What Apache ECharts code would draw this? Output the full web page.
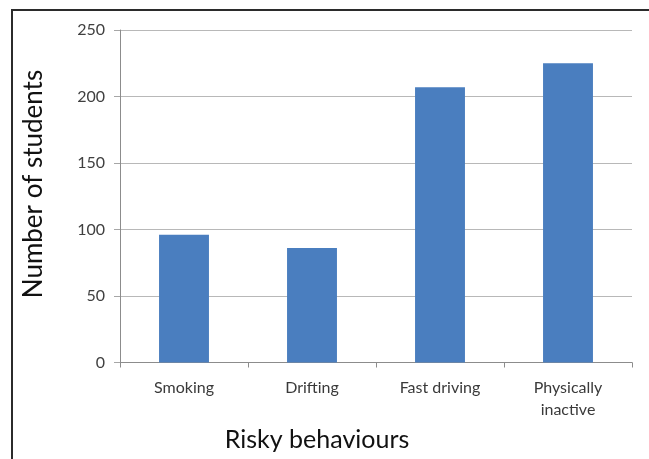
<!DOCTYPE html>
<html>
<head>
<meta charset="utf-8">
<script src="https://cdn.jsdelivr.net/npm/echarts@6/dist/echarts.min.js"></script>
<style>
  html, body { margin: 0; padding: 0; background: #fff; }
  #chart { width: 649px; height: 459px; }
</style>
</head>
<body>
<div id="chart"></div>
<script>
// Risky behaviours reported by students
const categories = ['Smoking', 'Drifting', 'Fast driving', 'Physically\ninactive'];
const students = [96, 86, 207, 225];
const yTicks = [0, 50, 100, 150, 200, 250];

const chart = echarts.init(document.getElementById('chart'), null, { renderer: 'canvas' });

chart.setOption({
  animation: false,
  backgroundColor: '#ffffff',
  grid: { left: 120, top: 30, width: 512, height: 332.5, containLabel: false },
  xAxis: {
    type: 'category',
    data: categories,
    axisLine: { lineStyle: { color: '#8c8c8c', width: 1 } },
    axisTick: { show: true, alignWithLabel: false, length: 5, lineStyle: { color: '#8c8c8c' } },
    axisLabel: {
      color: '#3a3a3a', fontFamily: 'Lato', fontSize: 16, margin: 14, lineHeight: 22
    }
  },
  yAxis: {
    type: 'value',
    min: yTicks[0],
    max: yTicks[yTicks.length - 1],
    interval: 50,
    axisLine: { show: true, lineStyle: { color: '#8c8c8c', width: 1 } },
    axisTick: { show: true, length: 6, lineStyle: { color: '#a6a6a6' } },
    axisLabel: { color: '#404040', fontFamily: 'Lato', fontSize: 16, margin: 15 },
    splitLine: { lineStyle: { color: '#b8b8b8', width: 1 } }
  },
  series: [{
    type: 'bar',
    data: students,
    barWidth: '39%',
    itemStyle: { color: '#4a7ebf' }
  }],
  graphic: [
    {
      type: 'polyline',
      shape: { points: [[12, 470], [12, 10], [660, 10]] },
      style: { stroke: '#2b2b2b', lineWidth: 2, fill: null },
      silent: true
    },
    {
      type: 'text',
      x: 34, y: 184,
      rotation: Math.PI / 2,
      style: {
        text: 'Number of students',
        font: '26px Lato',
        fill: '#111',
        align: 'center',
        verticalAlign: 'middle'
      }
    },
    {
      type: 'text',
      x: 317, y: 440,
      style: {
        text: 'Risky behaviours',
        font: '25px Lato',
        fill: '#111',
        align: 'center',
        verticalAlign: 'middle'
      }
    }
  ]
});
</script>
</body>
</html>
